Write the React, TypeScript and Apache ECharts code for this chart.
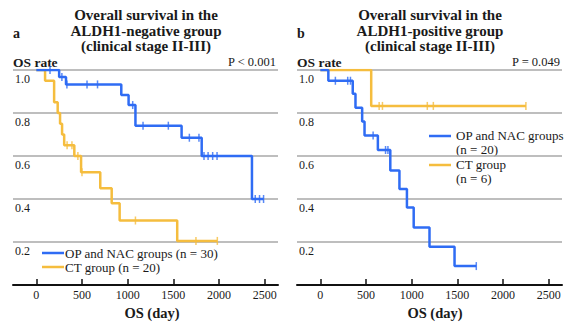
import React, { useEffect, useRef } from "react";
import * as echarts from "echarts";

// ---- data ----
const xTicks = [0, 500, 1000, 1500, 2000, 2500];

// Panel a: ALDH1-negative
const negOpTime = [0, 250, 325, 930, 1010, 1085, 1590, 1810, 2360, 2487];
const negOpSurv = [1.0, 0.967, 0.933, 0.884, 0.837, 0.741, 0.685, 0.6, 0.4, 0.4];
const negOpCensor = [150, 280, 335, 555, 670, 1055, 1168, 1445, 1675, 1780, 1835, 1880, 1930, 1978, 2396, 2443, 2487];

const negCtTime = [0, 96, 195, 234, 260, 282, 305, 416, 490, 700, 825, 912, 1542, 1981];
const negCtSurv = [1.0, 0.95, 0.85, 0.8, 0.75, 0.7, 0.65, 0.6, 0.525, 0.45, 0.38, 0.3, 0.205, 0.205];
const negCtCensor = [337, 390, 455, 500, 1085, 1747, 1981];

// Panel b: ALDH1-positive
const posOpTime = [0, 88, 355, 385, 458, 484, 630, 766, 866, 948, 1022, 1195, 1469, 1707];
const posOpSurv = [1.0, 0.95, 0.89, 0.825, 0.76, 0.695, 0.628, 0.532, 0.447, 0.36, 0.267, 0.178, 0.088, 0.088];
const posOpCensor = [165, 300, 330, 578, 714, 740, 1707];

const posCtTime = [0, 557, 2250];
const posCtSurv = [1.0, 0.833, 0.833];
const posCtCensor = [644, 680, 1171, 1237, 2250];

const BLUE = "#2f6cf4";
const ORANGE = "#f5bd3e";
const FONT = '"Liberation Serif", "Times New Roman", serif';
const TXT = "#1a1a1a";

function stepValue(times: number[], surv: number[], t: number) {
  let v = surv[0];
  for (let i = 0; i < times.length; i++) if (times[i] <= t) v = surv[i];
  return v;
}

function curve(name: string, times: number[], surv: number[], color: string, idx: number) {
  return {
    name,
    type: "line",
    step: "end",
    xAxisIndex: idx,
    yAxisIndex: idx,
    data: times.map((t, i) => [t, surv[i]]),
    showSymbol: false,
    symbol: "none",
    lineStyle: { color, width: 2.5 },
    itemStyle: { color },
    z: color === BLUE ? 4 : 3,
  };
}

function censor(times: number[], surv: number[], cens: number[], color: string, idx: number) {
  return {
    type: "scatter",
    xAxisIndex: idx,
    yAxisIndex: idx,
    data: cens.map((t) => [t, stepValue(times, surv, t)]),
    symbol: "rect",
    symbolSize: [1.5, 8],
    itemStyle: { color },
    z: color === BLUE ? 4 : 3,
  };
}

function txt(text: string, x: number, y: number, opts: any = {}) {
  return {
    type: "text",
    x,
    y,
    style: {
      text,
      fill: TXT,
      font: `${opts.bold ? "bold " : ""}${opts.size || 13}px ${FONT}`,
      textAlign: opts.align || "left",
      textVerticalAlign: opts.valign || "middle",
      verticalAlign: opts.valign || "middle",
      lineHeight: opts.lineHeight,
    },
  };
}

function legendLine(x: number, y: number, color: string) {
  return {
    type: "line",
    shape: { x1: x, y1: y, x2: x + 22, y2: y },
    style: { stroke: color, lineWidth: 2.5 },
  };
}

export default function App() {
  const ref = useRef<HTMLDivElement>(null);
  useEffect(() => {
    if (!ref.current) return;
    const chart = echarts.init(ref.current, undefined, { renderer: "svg" });
    const xAxis = [0, 1].map((i) => ({
      gridIndex: i,
      type: "value",
      min: -255,
      max: 2645,
      splitLine: { show: false },
      axisLine: { lineStyle: { color: "#111", width: 2 } },
      axisTick: { inside: true, length: 6, lineStyle: { color: "#111", width: 1.5 }, customValues: xTicks },
      axisLabel: {
        customValues: xTicks,
        formatter: (v: number) => String(v),
        fontSize: 12,
        color: TXT,
        fontFamily: FONT,
        margin: 4,
      },
    }));
    const yAxis = [0, 1].map((i) => ({
      gridIndex: i,
      type: "value",
      min: 0,
      max: 1,
      interval: 0.2,
      axisLine: { show: false },
      axisTick: { show: false },
      splitLine: { lineStyle: { color: "#a8a8a8", width: 1.5 } },
      axisLabel: {
        inside: true,
        margin: 2,
        verticalAlign: "top",
        padding: [3, 0, 0, 0],
        formatter: (v: number) => (v === 0 ? "" : v.toFixed(1)),
        fontSize: 12,
        color: TXT,
        fontFamily: FONT,
      },
    }));
    const option = {
      animation: false,
      grid: [
        { left: 13, top: 70, width: 265, height: 215 },
        { left: 297, top: 70, width: 265, height: 215 },
      ],
      xAxis,
      yAxis,
      series: [
        curve("CT group (n = 20)", negCtTime, negCtSurv, ORANGE, 0),
        censor(negCtTime, negCtSurv, negCtCensor, ORANGE, 0),
        curve("OP and NAC groups (n = 30)", negOpTime, negOpSurv, BLUE, 0),
        censor(negOpTime, negOpSurv, negOpCensor, BLUE, 0),
        curve("CT group (n = 6)", posCtTime, posCtSurv, ORANGE, 1),
        censor(posCtTime, posCtSurv, posCtCensor, ORANGE, 1),
        curve("OP and NAC groups (n = 20)", posOpTime, posOpSurv, BLUE, 1),
        censor(posOpTime, posOpSurv, posOpCensor, BLUE, 1),
      ],
      graphic: [
        txt("Overall survival in the", 146, 15, { bold: true, size: 15, align: "center" }),
        txt("ALDH1-negative group", 146, 31, { bold: true, size: 15, align: "center" }),
        txt("(clinical stage II-III)", 146, 46, { bold: true, size: 15, align: "center" }),
        txt("a", 13, 33, { bold: true, size: 14 }),
        txt("OS rate", 13, 62, { bold: true, size: 13.5 }),
        txt("P < 0.001", 276, 62, { size: 12.5, align: "right" }),
        txt("OS (day)", 152, 313, { bold: true, size: 14.5, align: "center" }),
        legendLine(42, 253, BLUE),
        txt("OP and NAC groups (n = 30)", 65, 253, { size: 13 }),
        legendLine(42, 267, ORANGE),
        txt("CT group (n = 20)", 65, 267, { size: 13 }),

        txt("Overall survival in the", 430, 15, { bold: true, size: 15, align: "center" }),
        txt("ALDH1-positive group", 430, 31, { bold: true, size: 15, align: "center" }),
        txt("(clinical stage II-III)", 430, 46, { bold: true, size: 15, align: "center" }),
        txt("b", 297, 33, { bold: true, size: 14 }),
        txt("OS rate", 297, 62, { bold: true, size: 13.5 }),
        txt("P = 0.049", 560, 62, { size: 12.5, align: "right" }),
        txt("OS (day)", 435, 313, { bold: true, size: 14.5, align: "center" }),
        legendLine(429, 136, BLUE),
        txt("OP and NAC groups\n(n = 20)", 456, 129, { size: 13, valign: "top", lineHeight: 13.5 }),
        legendLine(429, 165, ORANGE),
        txt("CT group\n(n = 6)", 456, 158, { size: 13, valign: "top", lineHeight: 13.5 }),
      ],
    };
    chart.setOption(option as any);
    return () => chart.dispose();
  }, []);
  return (
    <div
      ref={ref}
      style={{ position: "fixed", left: 0, top: 0, width: 568, height: 322, background: "#fff" }}
    />
  );
}
